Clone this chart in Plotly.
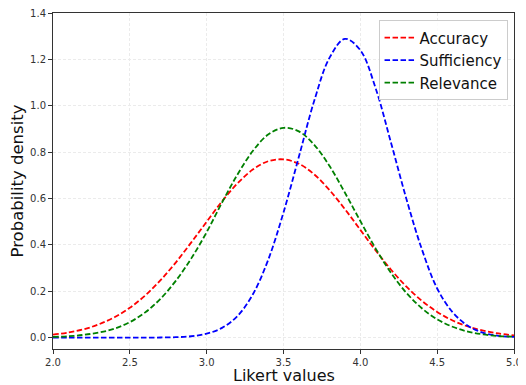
import plotly.graph_objects as go

likert_x = [2.0, 2.1, 2.2, 2.3, 2.4, 2.5, 2.6, 2.7, 2.8, 2.9,
            3.0, 3.1, 3.2, 3.3, 3.4, 3.5, 3.6, 3.7, 3.8, 3.9,
            4.0, 4.1, 4.2, 4.3, 4.4, 4.5, 4.6, 4.7, 4.8, 4.9, 5.0]

accuracy = [0.013, 0.022, 0.036, 0.058, 0.088, 0.129, 0.182, 0.248, 0.325, 0.411,
            0.500, 0.588, 0.665, 0.725, 0.761, 0.769, 0.750, 0.704, 0.636, 0.554,
            0.465, 0.376, 0.293, 0.220, 0.159, 0.111, 0.074, 0.048, 0.030, 0.018, 0.010]

sufficiency = [0.0, 0.0, 0.0, 0.0, 0.0, 0.0, 0.0002, 0.0006, 0.002, 0.006,
               0.017, 0.042, 0.093, 0.186, 0.335, 0.540, 0.780, 1.022, 1.208, 1.289,
               1.240, 1.075, 0.840, 0.598, 0.382, 0.212, 0.110, 0.051, 0.021, 0.008, 0.003]

relevance = [0.003, 0.006, 0.012, 0.022, 0.039, 0.067, 0.109, 0.168, 0.246, 0.342,
             0.455, 0.583, 0.703, 0.805, 0.876, 0.905, 0.890, 0.832, 0.740, 0.625,
             0.503, 0.384, 0.279, 0.193, 0.127, 0.079, 0.047, 0.026, 0.014, 0.007, 0.004]

series = [("Accuracy", accuracy, "red"),
          ("Sufficiency", sufficiency, "blue"),
          ("Relevance", relevance, "green")]

x_ticks = [2.0, 2.5, 3.0, 3.5, 4.0, 4.5, 5.0]
y_ticks = [0.0, 0.2, 0.4, 0.6, 0.8, 1.0, 1.2, 1.4]
x_title = "Likert values"
y_title = "Probability density"

fig = go.Figure()
for name, vals, color in series:
    fig.add_trace(go.Scatter(
        x=likert_x, y=vals, name=name, mode="lines",
        line=dict(color=color, width=1.8, dash="5.5px,2.5px", shape="spline", smoothing=1.0),
    ))

axis_common = dict(
    showline=True, mirror=True, linecolor="#333333", linewidth=1,
    showgrid=True, gridcolor="#ebebeb", griddash="3px,2px", gridwidth=1,
    ticks="outside", ticklen=4, tickwidth=1, tickcolor="#333333",
    tickfont=dict(family="DejaVu Sans", size=10, color="#333333"),
    zeroline=False, automargin=False, ticklabeloverflow="allow",
)

# page body has an 8px default margin, so the figure is sized to fit the window
fig.update_layout(
    width=518, height=377,
    margin=dict(l=45, r=12, t=5, b=36),
    paper_bgcolor="white", plot_bgcolor="white",
    font=dict(family="DejaVu Sans", color="#111111"),
    xaxis=dict(range=[2.0, 5.0], tickvals=x_ticks, ticktext=[f"{v:.1f}" for v in x_ticks],
               **axis_common),
    yaxis=dict(range=[-0.049, 1.4005], tickvals=y_ticks, ticktext=[f"{v:.1f}" for v in y_ticks],
               title=dict(text=y_title, font=dict(size=16.5), standoff=3), **axis_common),
    legend=dict(x=0.986, y=0.978, xanchor="right", yanchor="top",
                bgcolor="rgba(255,255,255,0.85)", bordercolor="#cccccc", borderwidth=1,
                font=dict(size=15, family="DejaVu Sans", color="#111111"),
                tracegroupgap=2),
    showlegend=True,
)

fig.add_annotation(text=x_title, xref="paper", yref="paper", x=0.5, y=0,
                   xanchor="center", yanchor="top", yshift=-16, showarrow=False,
                   font=dict(size=16, family="DejaVu Sans", color="#111111"),
                   borderpad=0)

fig.write_html("out.html")
